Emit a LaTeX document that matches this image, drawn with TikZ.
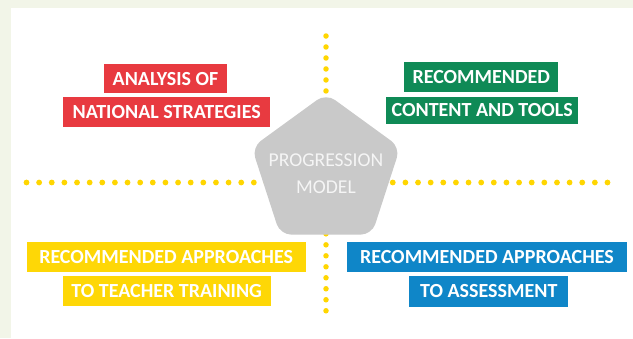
\documentclass[tikz,border=0pt]{standalone}
\usepackage{fontspec}
\setmainfont{Carlito}
\definecolor{bgbeige}{HTML}{F2F5E8}
\definecolor{boxred}{HTML}{E83A40}
\definecolor{boxgreen}{HTML}{0F8A56}
\definecolor{boxyellow}{HTML}{FED706}
\definecolor{boxblue}{HTML}{0F86C8}
\definecolor{pentgray}{HTML}{C9C9C9}
\definecolor{dotyellow}{HTML}{FFD600}
\begin{document}
\begin{tikzpicture}[x=1pt,y=-1pt,
  lbl/.style={inner sep=0pt, text=white, font=\bfseries\fontsize{20}{21}\selectfont},
  hdots/.style={dotyellow, line width=5.8pt, line cap=round, dash pattern=on 0pt off 12.63pt},
  vdots/.style={dotyellow, line width=5.5pt, line cap=round, dash pattern=on 0pt off 10.99pt},
  pent/.style={fill=pentgray, rounded corners=11pt},
  ptext/.style={inner sep=0pt, anchor=base, text=white!96!black, font=\fontsize{19.6}{20}\selectfont}]
\fill[bgbeige] (0,0) rectangle (633,338);
\fill[white] (11,8) rectangle (633,338);
\useasboundingbox (0,0) rectangle (633,338);
% dotted axes
\coordinate (hL) at (26.5,182.5);
\coordinate (hR) at (620.1,182.5);
\coordinate (vT) at (326,36);
\coordinate (vB) at (326,321.7);
\draw[hdots] (hL) -- (hR);
\draw[vdots] (vT) -- (vB);
% pentagon
\coordinate (pc) at (326,171.5);
\fill[pent] ([shift={(-90:78)}]pc) -- ([shift={(-162:78)}]pc) -- ([shift={(-234:78)}]pc) -- ([shift={(-306:78)}]pc) -- ([shift={(-18:78)}]pc) -- cycle;
\node[ptext] (model1) at (326,166.5) {PROGRESSION};
\node[ptext] (model2) at (326,193.5) {MODEL};
% boxes
\node[lbl, fill=boxred, minimum width=122.4pt, minimum height=29pt] (r1) at (165.5,78.8) {ANALYSIS OF};
\node[lbl, fill=boxred, minimum width=206.7pt, minimum height=30pt] (r2) at (166.7,111.7) {NATIONAL STRATEGIES};
\node[lbl, fill=boxgreen, minimum width=154pt, minimum height=30pt] (g1) at (481.3,76.7) {RECOMMENDED};
\node[lbl, fill=boxgreen, minimum width=192.3pt, minimum height=27.6pt] (g2) at (482.2,110.5) {CONTENT AND TOOLS};
\node[lbl, fill=boxyellow, minimum width=279pt, minimum height=29.4pt] (y1) at (166.2,257) {RECOMMENDED APPROACHES};
\node[lbl, fill=boxyellow, minimum width=208pt, minimum height=30pt] (y2) at (166.7,291) {TO TEACHER TRAINING};
\node[lbl, fill=boxblue, minimum width=280.6pt, minimum height=29.4pt] (b1) at (487,257) {RECOMMENDED APPROACHES};
\node[lbl, fill=boxblue, minimum width=159pt, minimum height=31pt] (b2) at (488.8,291.2) {TO ASSESSMENT};
\end{tikzpicture}
\end{document}
